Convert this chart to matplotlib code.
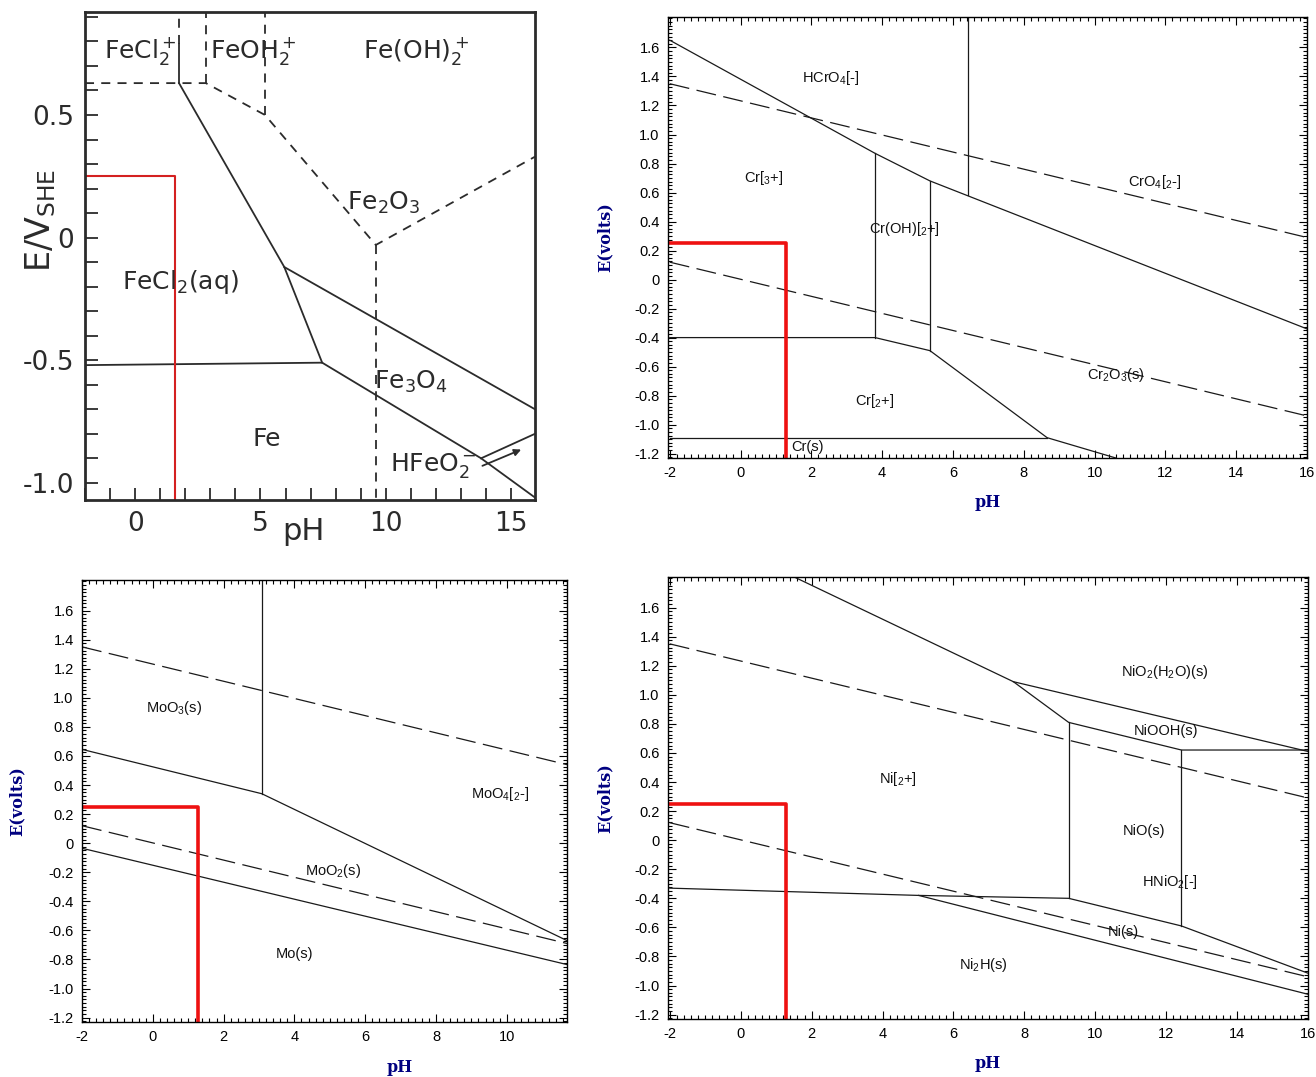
import numpy as np
import matplotlib
matplotlib.use("Agg")
import matplotlib.pyplot as plt
from matplotlib.ticker import MultipleLocator, FuncFormatter

plt.rcParams['axes.unicode_minus'] = False
plt.rcParams['mathtext.default'] = 'regular'

# ---- Fe diagram (scanned one, top left), boundaries as (pH, E) vertices
fe_solid = [
    [(1.75, 0.63), (1.75, 0.79)],
    [(1.75, 0.63), (5.95, -0.12), (7.46, -0.51)],
    [(-2, -0.52), (7.46, -0.51), (13.8, -0.90), (15.95, -1.06)],
    [(5.95, -0.12), (15.95, -0.70)],
    [(13.8, -0.90), (15.95, -0.80)],
]
fe_dashed = [
    [(-2, 0.63), (2.82, 0.63), (5.18, 0.50), (9.6, -0.03), (15.95, 0.33)],
    [(1.75, 0.79), (1.75, 0.92)],
    [(2.82, 0.63), (2.82, 0.92)],
    [(5.18, 0.50), (5.18, 0.92)],
    [(9.6, -0.03), (9.6, -1.07)],
]
fe_red = [(-2, 0.25), (1.6, 0.25), (1.6, -1.07)]
fe_labels = [r'FeCl$_2^+$', r'FeOH$_2^+$', r'Fe(OH)$_2^+$', r'Fe$_2$O$_3$',
             r'FeCl$_2$(aq)', r'Fe$_3$O$_4$', 'Fe', r'HFeO$_2^-$']
fe_label_xy = [(0.2, 0.76), (4.7, 0.76), (11.2, 0.76), (9.9, 0.14),
               (1.8, -0.18), (11.0, -0.59), (5.25, -0.82), (11.9, -0.93)]

# ---- Cr diagram (top right)
cr_solid = [
    [(-2, 1.65), (3.8, 0.87), (5.35, 0.68), (16, -0.34)],
    [(6.43, 1.81), (6.43, 0.58)],
    [(3.8, 0.87), (3.8, -0.40)],
    [(5.35, 0.68), (5.35, -0.49)],
    [(-2, -0.40), (3.8, -0.40), (5.35, -0.49), (8.66, -1.09), (10.6, -1.23)],
    [(-2, -1.09), (8.66, -1.09)],
]
cr_water = [[(-2, 1.35), (16, 0.29)], [(-2, 0.12), (16, -0.94)]]
cr_labels = [r'HCrO$_4$[-]', r'Cr[$_3$+]', r'Cr(OH)[$_2$+]', r'CrO$_4$[$_2$-]',
             r'Cr$_2$O$_3$(s)', r'Cr[$_2$+]', 'Cr(s)']
cr_label_xy = [(2.56, 1.39), (0.66, 0.70), (4.63, 0.35), (11.7, 0.67),
               (10.6, -0.66), (3.8, -0.84), (1.88, -1.155)]

# ---- Mo diagram (bottom left)
mo_solid = [
    [(-2, 0.645), (3.08, 0.34), (11.7, -0.67)],
    [(3.08, 0.34), (3.08, 1.81)],
    [(-2, -0.035), (11.7, -0.835)],
]
mo_water = [[(-2, 1.35), (11.7, 0.54)], [(-2, 0.12), (11.7, -0.69)]]
mo_labels = [r'MoO$_3$(s)', r'MoO$_4$[$_2$-]', r'MoO$_2$(s)', 'Mo(s)']
mo_label_xy = [(0.6, 0.93), (9.8, 0.34), (5.1, -0.19), (4.0, -0.76)]

# ---- Ni diagram (bottom right)
ni_solid = [
    [(1.51, 1.81), (7.69, 1.09), (9.25, 0.81), (12.43, 0.62), (16, 0.62)],
    [(7.69, 1.09), (16, 0.61)],
    [(9.25, 0.81), (9.25, -0.40)],
    [(12.43, 0.62), (12.43, -0.59)],
    [(-2, -0.33), (5.02, -0.38), (9.25, -0.40), (12.43, -0.59), (16, -0.915)],
    [(5.02, -0.38), (16, -1.06)],
]
ni_water = [[(-2, 1.35), (16, 0.29)], [(-2, 0.12), (16, -0.94)]]
ni_labels = [r'NiO$_2$(H$_2$O)(s)', 'NiOOH(s)', r'Ni[$_2$+]', 'NiO(s)',
             r'HNiO$_2$[-]', 'Ni(s)', r'Ni$_2$H(s)']
ni_label_xy = [(11.97, 1.16), (12.0, 0.75), (4.43, 0.42), (11.37, 0.06),
               (12.1, -0.29), (10.8, -0.63), (6.84, -0.86)]

# red marker used in the three computed diagrams
red_pH = 1.27
red_E = 0.25

W, H = 1316, 1077
fig = plt.figure(figsize=(W / 100, H / 100), dpi=100)


def px_axes(l, t, r, b):
    return fig.add_axes([l / W, 1 - b / H, (r - l) / W, (b - t) / H])


def plot_path(ax, pts, **kw):
    xs, ys = zip(*pts)
    ax.plot(xs, ys, **kw)


def fmt_e(v, pos):
    return '0' if abs(v) < 1e-9 else '%.1f' % v


# ---------------- Fe panel
ink = '#2b2b2b'
ax = px_axes(85, 12, 535, 500)
ax.set_xlim(-2, 15.95)
ax.set_ylim(-1.07, 0.92)
for p in fe_solid:
    plot_path(ax, p, color=ink, lw=1.3)
for p in fe_dashed:
    plot_path(ax, p, color=ink, lw=1.3, ls=(0, (5, 4)))
plot_path(ax, fe_red, color='#d42020', lw=1.5)
for s, (x, y) in zip(fe_labels, fe_label_xy):
    ax.text(x, y, s, ha='center', va='center', fontsize=18, color=ink)
ax.annotate('', xy=(15.5, -0.86), xytext=(13.75, -0.935),
            arrowprops=dict(arrowstyle='-|>', color=ink, lw=1.3))
ax.set_xticks([0, 5, 10, 15])
ax.set_yticks([-1.0, -0.5, 0, 0.5])
ax.xaxis.set_minor_locator(MultipleLocator(1))
ax.yaxis.set_minor_locator(MultipleLocator(0.1))
ax.yaxis.set_major_formatter(FuncFormatter(fmt_e))
ax.tick_params(which='both', direction='in', length=9, width=1.3,
               colors=ink, labelsize=19, pad=8)
for sp in ax.spines.values():
    sp.set_linewidth(2)
    sp.set_color(ink)
ax.text(6.7, -1.2, 'pH', fontsize=22, color=ink, ha='center', va='center',
        clip_on=False)
ax.text(-3.75, 0.07, r'E/V$_{SHE}$', fontsize=24, color=ink, rotation=90,
        ha='center', va='center', clip_on=False)


# ---------------- computed diagrams
narrow = ['Liberation Sans Narrow', 'Liberation Sans', 'DejaVu Sans']
navy = '#000080'


def computed_panel(ax, xlim, solid, water, labels, label_xy, xlab_xy, ylab_x):
    ax.set_xlim(*xlim)
    ax.set_ylim(-1.23, 1.81)
    for p in solid:
        plot_path(ax, p, color='#1a1a1a', lw=0.9)
    for p in water:
        plot_path(ax, p, color='#1a1a1a', lw=0.9, ls=(0, (16, 6)))
    plot_path(ax, [(xlim[0], red_E), (red_pH, red_E), (red_pH, -1.23)],
              color='#ee1111', lw=2.6, solid_capstyle='butt')
    for s, (x, y) in zip(labels, label_xy):
        ax.text(x, y, s, ha='center', va='center', fontsize=10.5,
                family=narrow, color='#111111')
    ax.set_yticks(np.round(np.arange(-1.2, 1.61, 0.2), 1))
    ax.xaxis.set_major_locator(MultipleLocator(2))
    ax.xaxis.set_minor_locator(MultipleLocator(0.2))
    ax.yaxis.set_minor_locator(MultipleLocator(0.025))
    ax.yaxis.set_major_formatter(FuncFormatter(fmt_e))
    ax.xaxis.set_major_formatter(FuncFormatter(lambda v, p: '%d' % round(v)))
    ax.tick_params(which='both', direction='in', top=True, right=True,
                   width=0.8, labelsize=10.5, pad=6)
    ax.tick_params(which='major', length=6)
    ax.tick_params(which='minor', length=3)
    for lab in ax.get_xticklabels() + ax.get_yticklabels():
        lab.set_family(narrow)
    for sp in ax.spines.values():
        sp.set_linewidth(1.0)
    ax.set_xlabel('pH', fontsize=11.5, fontweight='bold', family='DejaVu Serif',
                  color=navy, va='center')
    ax.xaxis.set_label_coords(*xlab_xy)
    ax.set_ylabel('E(volts)', fontsize=11.5, fontweight='bold',
                  family='DejaVu Serif', color=navy, va='center')
    ax.yaxis.set_label_coords(ylab_x, 0.5)


ax = px_axes(668, 17, 1307, 458)
computed_panel(ax, (-2.05, 16), cr_solid, cr_water, cr_labels, cr_label_xy,
               (0.50, -0.10), -0.099)

ax = px_axes(82, 580, 567, 1022)
computed_panel(ax, (-2.0, 11.7), mo_solid, mo_water, mo_labels, mo_label_xy,
               (0.656, -0.104), -0.134)

ax = px_axes(668, 577, 1308, 1019)
computed_panel(ax, (-2.05, 16), ni_solid, ni_water, ni_labels, ni_label_xy,
               (0.50, -0.10), -0.099)

fig.savefig('out.png', dpi=100, facecolor='white')
